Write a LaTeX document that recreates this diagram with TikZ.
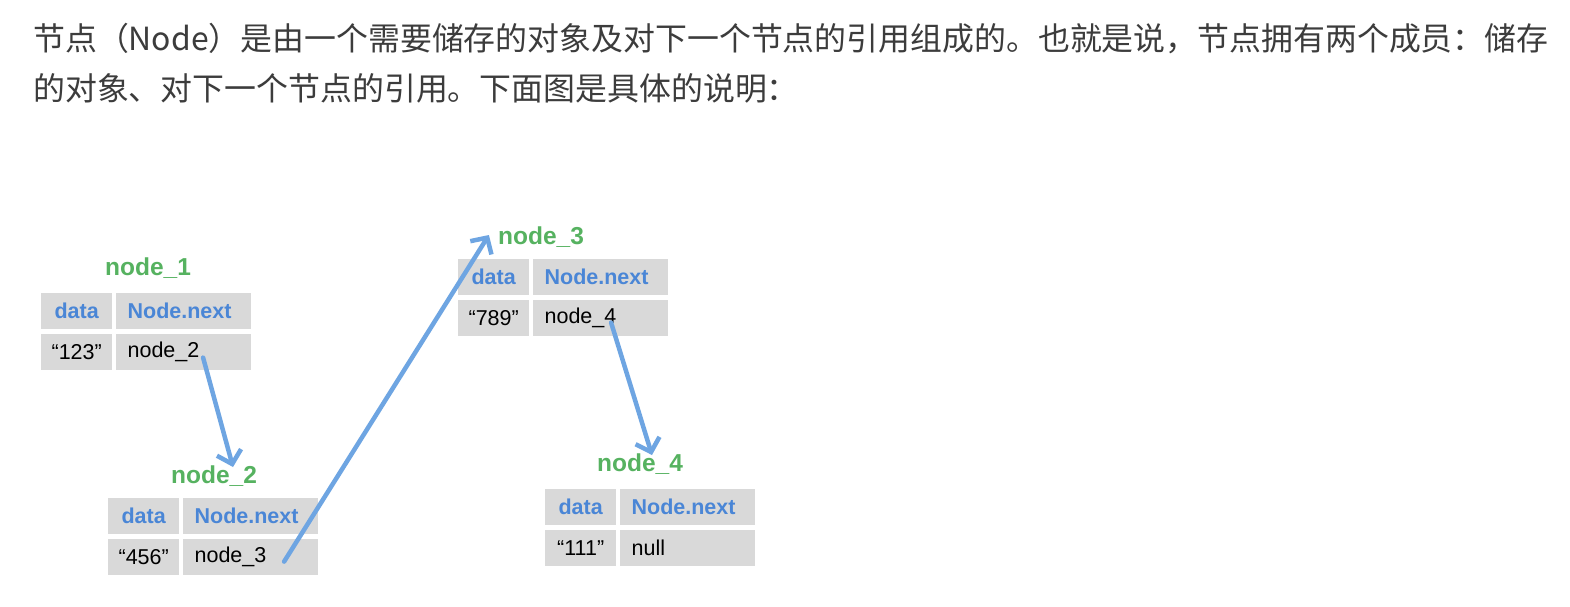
\documentclass[tikz,border=0pt]{standalone}
\usepackage{fontspec}
\setmainfont{Liberation Sans}
\newfontfamily\cjk{Noto Sans CJK SC}
\usetikzlibrary{positioning, arrows.meta}

\definecolor{cellgray}{RGB}{217,217,217}
\definecolor{headblue}{RGB}{74,134,214}
\definecolor{labgreen}{RGB}{86,178,96}
\definecolor{arrowblue}{RGB}{110,165,226}
\definecolor{textgray}{RGB}{60,60,60}

\tikzstyle{intro} = [
    inner sep=0pt, text=textgray,
    font=\cjk\fontsize{31.9}{36}\selectfont
]
\tikzstyle{datacell} = [
    rectangle, fill=cellgray,
    minimum width=71pt, minimum height=36pt,
    inner sep=0pt, text centered
]
\tikzstyle{nextcell} = [
    rectangle, fill=cellgray,
    minimum height=36pt, text width=111pt,
    inner xsep=12pt, inner ysep=0pt, align=left
]
\tikzstyle{headtext} = [text=headblue, font=\fontsize{21.5}{24}\selectfont\bfseries]
\tikzstyle{valtext} = [text=black, font=\fontsize{21.5}{24}\selectfont]
\tikzstyle{title} = [inner sep=0pt, text=labgreen, font=\fontsize{24.5}{28}\selectfont\bfseries]
\tikzstyle{arrow} = [line width=4.5pt, draw=arrowblue, line cap=round, -{Straight Barb[length=12pt,width=25pt]}]

\begin{document}
\begin{tikzpicture}[x=1pt, y=-1pt]
    \path[fill=white] (0,0) rectangle (1570,606);
    \useasboundingbox (0,0) rectangle (1570,606);

    % Text above the picture
    \node (line1) [intro, anchor=base west] at (33,50) {节点（Node）是由一个需要储存的对象及对下一个节点的引用组成的。也就是说，节点拥有两个成员：储存};
    \node (line2) [intro, anchor=base west] at (33,100) {的对象、对下一个节点的引用。下面图是具体的说明：};

    % Draw the four nodes
    \foreach \i/\x/\y/\lx/\ly/\val/\nxt in {
        1/41/293/148/268/123/node\_2,
        2/108/498/214/476/456/node\_3,
        3/458/259/541/237/789/node\_4,
        4/545/489/640/464/111/null} {
        \node (lab\i) [title] at (\lx,\ly) {node\_\i};
        \node (dh\i) [datacell, headtext, anchor=north west] at (\x,\y) {data};
        \node (nh\i) [nextcell, headtext, right=3pt of dh\i] {Node.next};
        \node (dv\i) [datacell, valtext, below=4pt of dh\i] {“\val”};
        \node (nv\i) [nextcell, valtext, below=4pt of nh\i] {\nxt};
    }

    % Draw arrows
    \draw [arrow] ([xshift=20pt,yshift=-6pt]nv1.center) -- ([xshift=19pt,yshift=9pt]lab2.center);
    \draw [arrow] ([xshift=34pt,yshift=-5pt]nv2.center) -- ([xshift=-9pt,yshift=2pt]lab3.west);
    \draw [arrow] ([xshift=11pt,yshift=-5pt]nv3.center) -- ([xshift=12pt,yshift=9pt]lab4.center);
\end{tikzpicture}
\end{document}
